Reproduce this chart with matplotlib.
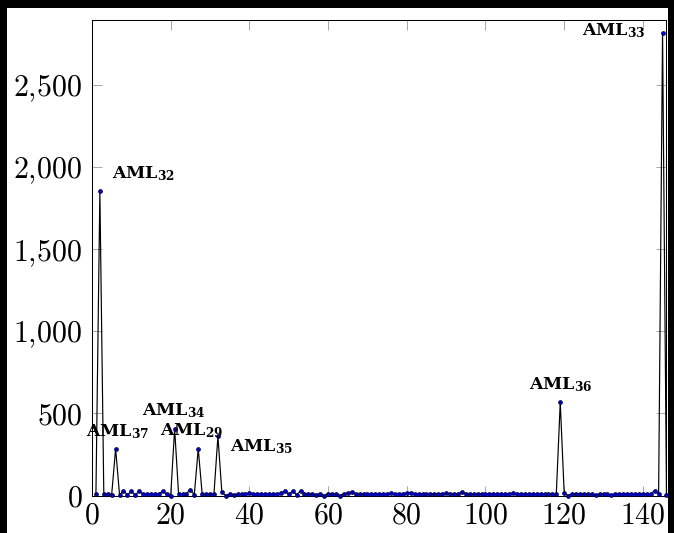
import matplotlib
matplotlib.use("Agg")
import matplotlib.pyplot as plt
from matplotlib.patches import Rectangle
from matplotlib.ticker import FuncFormatter, MultipleLocator
import numpy as np

plt.rcParams['mathtext.fontset'] = 'cm'
plt.rcParams['font.family'] = ['DejaVu Serif']

# ---- data (sample index 1..146) ----
values = [
    10, 1851, 10, 8, 6, 284, 5, 28, 5, 25,          # 1-10
    5, 25, 10, 10, 10, 10, 12, 25, 10, 0,           # 11-20
    406, 10, 10, 12, 35, 5, 285, 8, 8, 10,          # 21-30
    12, 361, 20, 0, 10, 5, 8, 10, 10, 15,           # 31-40
    12, 12, 10, 10, 12, 12, 10, 14, 28, 8,          # 41-50
    25, 5, 28, 12, 12, 10, 5, 12, 0, 12,            # 51-60
    12, 8, 0, 12, 15, 20, 12, 10, 12, 10,           # 61-70
    10, 12, 10, 10, 12, 14, 10, 12, 12, 15,         # 71-80
    18, 12, 10, 12, 10, 10, 12, 10, 12, 14,         # 81-90
    12, 10, 12, 20, 12, 10, 10, 12, 10, 12,         # 91-100
    10, 12, 12, 10, 10, 12, 14, 12, 10, 10,         # 101-110
    12, 10, 12, 10, 10, 12, 10, 10, 567, 15,        # 111-120
    0, 10, 12, 10, 12, 10, 8, 2, 10, 12,            # 121-130
    10, 2, 10, 12, 10, 12, 10, 10, 12, 10,          # 131-140
    12, 10, 30, 8, 2816, 5,                         # 141-146
]
x = np.arange(1, len(values) + 1)

labels = {           # index: label text
    2: r'$\mathbf{AML}_{\mathbf{32}}$',
    145: r'$\mathbf{AML}_{\mathbf{33}}$',
    119: r'$\mathbf{AML}_{\mathbf{36}}$',
    6: r'$\mathbf{AML}_{\mathbf{37}}$',
    21: r'$\mathbf{AML}_{\mathbf{34}}$',
    27: r'$\mathbf{AML}_{\mathbf{29}}$',
    32: r'$\mathbf{AML}_{\mathbf{35}}$',
}
label_pos = {        # (dx, dy in points, ha, va)
    2: (8.6, 6.0, 'left', 'bottom'),
    145: (-12.0, -1.5, 'right', 'baseline'),
    119: (0.0, 6.0, 'center', 'bottom'),
    6: (1.4, 6.0, 'center', 'bottom'),
    21: (-0.8, 6.0, 'center', 'bottom'),
    27: (-4.7, 6.0, 'center', 'bottom'),
    32: (8.6, -1.0, 'left', 'top'),
}

fig = plt.figure(figsize=(6.74, 5.33), dpi=100, facecolor='black')
fig.patches.append(Rectangle((7 / 674, 0), (668 - 7) / 674, (533 - 8) / 533,
                             transform=fig.transFigure, facecolor='white',
                             edgecolor='none', zorder=-10))
ax = fig.add_axes([92 / 674, 37 / 533, (665.7 - 92) / 674, (496 - 20) / 533])
ax.set_zorder(5)
ax.set_facecolor('white')

ax.plot(x, values, color='black', lw=0.85, marker='o', markersize=2.8,
        markerfacecolor='#0000cc', markeredgecolor='#000033', markeredgewidth=0.5,
        zorder=3, clip_on=False)

for idx, txt in labels.items():
    dx, dy, ha, va = label_pos[idx]
    ax.annotate(txt, (idx, values[idx - 1]), xytext=(dx, dy),
                textcoords='offset points', ha=ha, va=va, fontsize=12.5,
                math_fontfamily='dejavuserif', color='black', zorder=4)

ax.set_xlim(0, 145.8)
ax.set_ylim(-3, 2895)
ax.xaxis.set_major_locator(MultipleLocator(20))
ax.yaxis.set_major_locator(MultipleLocator(500))


def fmt(v, pos):
    s = f'{v:,.0f}'.replace(',', '{,}')
    return f'${s}$'


ax.xaxis.set_major_formatter(FuncFormatter(fmt))
ax.yaxis.set_major_formatter(FuncFormatter(fmt))
ax.tick_params(axis='both', which='major', direction='in', length=7.5,
               width=0.6, color='0.6', labelsize=21.5, top=True, right=True,
               labelcolor='black')
ax.tick_params(axis='x', pad=4)
ax.tick_params(axis='y', pad=7)
for sp in ax.spines.values():
    sp.set_linewidth(0.75)
    sp.set_color('black')

fig.savefig('out.png', dpi=100, facecolor=fig.get_facecolor())
